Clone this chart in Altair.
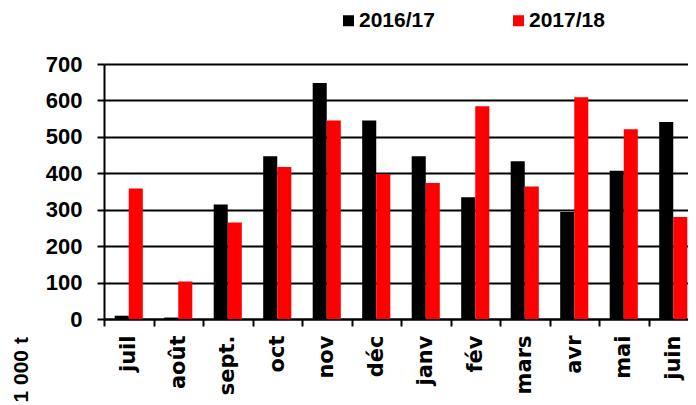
import altair as alt
import pandas as pd

months = ["juil", "août", "sept.", "oct", "nov", "déc", "janv", "fév", "mars", "avr", "mai", "juin"]
series_names = ["2016/17", "2017/18"]
s1617 = [9, 4, 314, 447, 648, 545, 447, 334, 433, 294, 407, 541]
s1718 = [358, 103, 265, 417, 545, 398, 373, 584, 364, 609, 521, 280]
colors = ["#000000", "#ff0000"]

rows = []
for m, a, b in zip(months, s1617, s1718):
    rows.append({"mois": m, "saison": series_names[0], "valeur": a})
    rows.append({"mois": m, "saison": series_names[1], "valeur": b})
df = pd.DataFrame(rows)

chart = alt.Chart(df).mark_bar().encode(
    x=alt.X("mois:N", sort=months,
            scale=alt.Scale(paddingInner=0, paddingOuter=0),
            axis=alt.Axis(title=None, labelAngle=-90, tickBand="extent", tickSize=7,
                          tickWidth=2, tickColor="#000", domainColor="#000", domainWidth=2,
                          labelFont="DejaVu Sans", labelFontWeight="bold", labelFontSize=21,
                          labelColor="#000", labelPadding=9, grid=False)),
    xOffset=alt.XOffset("saison:N", sort=series_names,
                        scale=alt.Scale(paddingInner=0, paddingOuter=0.76)),
    y=alt.Y("valeur:Q", scale=alt.Scale(domain=[0, 700], nice=False),
            axis=alt.Axis(title="1 000 t", values=list(range(0, 701, 100)),
                          tickSize=7, tickWidth=2, tickColor="#000",
                          domainColor="#000", domainWidth=2,
                          gridColor="#000", gridWidth=2, grid=True,
                          labelFont="Liberation Sans", labelFontWeight="bold",
                          labelFontSize=22, labelColor="#000", labelPadding=15,
                          titleFont="Liberation Sans", titleFontWeight="bold",
                          titleFontSize=21, titleColor="#000",
                          titleAngle=-90, titleAlign="left", titleBaseline="middle",
                          titleX=-83, titleY=338)),
    color=alt.Color("saison:N", sort=series_names,
                    scale=alt.Scale(domain=series_names, range=colors),
                    legend=alt.Legend(title=None, orient="none", direction="horizontal",
                                      legendX=234, legendY=-54, padding=0,
                                      symbolType="square", symbolSize=121,
                                      symbolStrokeWidth=0, labelOffset=0,
                                      columnPadding=73, labelLimit=300,
                                      labelFont="Liberation Sans", labelFontWeight="bold",
                                      labelFontSize=21, labelColor="#000")),
).properties(
    width=594,
    height=255,
    autosize=alt.AutoSizeParams(type="none"),
    padding={"left": 96, "top": 56, "right": -10, "bottom": 86},
).configure_view(strokeWidth=0).configure(background="white")

chart.save("out.html", embed_options={"renderer": "svg", "actions": False})
